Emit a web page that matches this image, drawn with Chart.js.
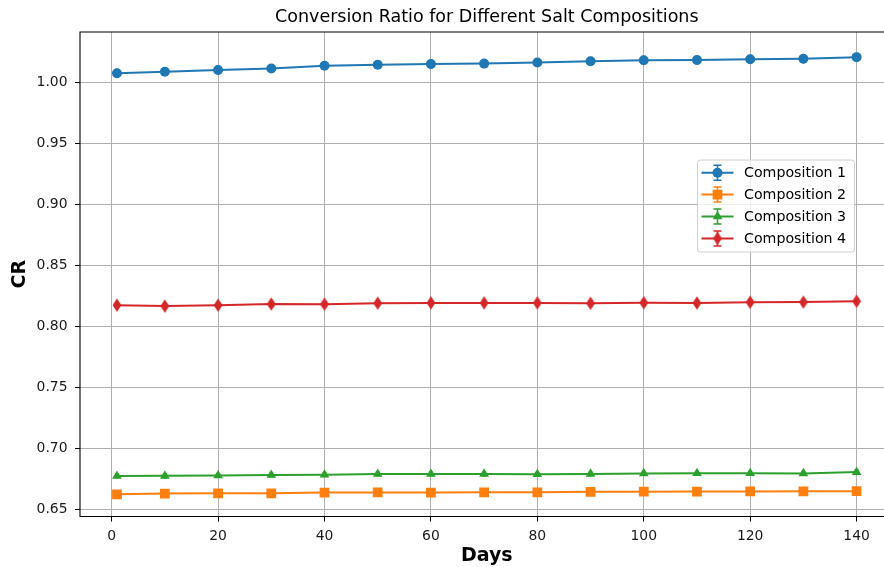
<!DOCTYPE html>
<html>
<head>
<meta charset="utf-8">
<script src="https://cdn.jsdelivr.net/npm/chart.js@4.4.1/dist/chart.umd.min.js"></script>
<style>
  html, body { margin: 0; padding: 0; background: #fff; }
  #wrap { width: 884px; height: 567px; }
</style>
</head>
<body>
<div id="wrap"><canvas id="c" width="884" height="567"></canvas></div>
<script>
// data
const days  = [1, 10, 20, 30, 40, 50, 60, 70, 80, 90, 100, 110, 120, 130, 140];
const comp1 = [1.0072, 1.0085, 1.0099, 1.0111, 1.0134, 1.0142, 1.0148, 1.0151, 1.0160, 1.0171, 1.0179, 1.0180, 1.0187, 1.0191, 1.0204];
const comp2 = [0.6622, 0.6628, 0.6630, 0.6630, 0.6636, 0.6637, 0.6636, 0.6638, 0.6638, 0.6642, 0.6643, 0.6644, 0.6645, 0.6646, 0.6647];
const comp3 = [0.6772, 0.6773, 0.6776, 0.6780, 0.6782, 0.6788, 0.6788, 0.6789, 0.6786, 0.6789, 0.6793, 0.6794, 0.6794, 0.6793, 0.6804];
const comp4 = [0.8172, 0.8164, 0.8172, 0.8181, 0.8180, 0.8188, 0.8190, 0.8190, 0.8190, 0.8187, 0.8191, 0.8189, 0.8196, 0.8197, 0.8204];
const err1  = [0.003, 0.003, 0.003, 0.003, 0.003, 0.003, 0.003, 0.003, 0.003, 0.003, 0.003, 0.003, 0.003, 0.003, 0.003];
const err2  = [0.002, 0.002, 0.002, 0.002, 0.002, 0.002, 0.002, 0.002, 0.002, 0.002, 0.002, 0.002, 0.002, 0.002, 0.002];
const err3  = [0.0015, 0.0015, 0.0015, 0.0015, 0.0015, 0.0015, 0.0015, 0.0015, 0.0015, 0.0015, 0.0015, 0.0015, 0.0015, 0.0015, 0.0015];
const err4  = [0.002, 0.002, 0.002, 0.002, 0.002, 0.002, 0.002, 0.002, 0.002, 0.002, 0.002, 0.002, 0.002, 0.002, 0.002];
const labels = ['Composition 1', 'Composition 2', 'Composition 3', 'Composition 4'];
const xTicks = [0, 20, 40, 60, 80, 100, 120, 140];
const yTicks = [0.65, 0.70, 0.75, 0.80, 0.85, 0.90, 0.95, 1.00];

const FONT = 'DejaVu Sans';
const colors = ['#1f77b4', '#ff7f0e', '#2ca02c', '#d62728'];

// matplotlib 'd' marker (thin diamond)
function thinDiamond(color) {
    const c = document.createElement('canvas');
    c.width = 10; c.height = 15;
    const g = c.getContext('2d');
    g.fillStyle = color;
    g.beginPath();
    g.moveTo(5, 0.8); g.lineTo(9.4, 7.5); g.lineTo(5, 14.2); g.lineTo(0.6, 7.5);
    g.closePath();
    g.fill();
    return c;
}

const series = [comp1, comp2, comp3, comp4];
const errs = [err1, err2, err3, err4];
const markers = [
    { style: 'circle', r: 5 },
    { style: 'rect', r: 6.9 },
    { style: 'triangle', r: 5.6 },
    { style: thinDiamond(colors[3]), r: 6 }
];

const datasets = series.map((s, k) => ({
    label: labels[k],
    data: days.map((d, i) => ({ x: d, y: s[i] })),
    borderColor: colors[k],
    backgroundColor: colors[k],
    borderWidth: 2,
    pointStyle: markers[k].style,
    pointRadius: markers[k].r,
    pointBorderWidth: 0,
    pointHoverRadius: markers[k].r,
    tension: 0
}));

// error bars with caps, under the markers
const errorBars = {
    id: 'errorBars',
    beforeDatasetsDraw(chart) {
        const ctx = chart.ctx, xs = chart.scales.x, ys = chart.scales.y;
        ctx.save();
        series.forEach((s, k) => {
            ctx.strokeStyle = colors[k];
            ctx.lineWidth = 1.5;
            days.forEach((d, i) => {
                const px = xs.getPixelForValue(d);
                const y1 = ys.getPixelForValue(s[i] + errs[k][i]);
                const y2 = ys.getPixelForValue(s[i] - errs[k][i]);
                ctx.beginPath();
                ctx.moveTo(px, y1); ctx.lineTo(px, y2);
                ctx.moveTo(px - 2, y1); ctx.lineTo(px + 2, y1);
                ctx.moveTo(px - 2, y2); ctx.lineTo(px + 2, y2);
                ctx.stroke();
            });
        });
        ctx.restore();
    }
};

// spines, title, x label, legend
const decor = {
    id: 'decor',
    afterDraw(chart) {
        const ctx = chart.ctx, a = chart.chartArea;
        // the full matplotlib axes runs past the right edge; its centre is x = 70.5
        const midX = chart.scales.x.getPixelForValue(70.5);
        ctx.save();
        ctx.strokeStyle = '#000';
        ctx.lineWidth = 1.1;
        ctx.beginPath();
        ctx.moveTo(a.right + 2, a.top); ctx.lineTo(a.left, a.top);
        ctx.lineTo(a.left, a.bottom); ctx.lineTo(a.right + 2, a.bottom);
        ctx.stroke();

        ctx.fillStyle = '#000';
        ctx.font = '17.5px "' + FONT + '"';
        ctx.textAlign = 'center';
        ctx.textBaseline = 'middle';
        ctx.fillText('Conversion Ratio for Different Salt Compositions', midX, 17);

        ctx.font = 'bold 19px "' + FONT + '"';
        ctx.fillText('Days', midX, 556);

        // legend
        const bx = 697.5, by = 160, bw = 157, bh = 92;
        ctx.beginPath();
        ctx.roundRect(bx, by, bw, bh, 3);
        ctx.fillStyle = 'rgba(255,255,255,0.8)';
        ctx.fill();
        ctx.strokeStyle = '#d0d0d0';
        ctx.lineWidth = 1;
        ctx.stroke();
        ctx.font = '14.2px "' + FONT + '"';
        ctx.textAlign = 'left';
        chart.data.datasets.forEach((ds, k) => {
            const y = 172.7 + k * 21.9;
            ctx.strokeStyle = colors[k];
            ctx.lineWidth = 2;
            ctx.beginPath();
            ctx.moveTo(701.5, y); ctx.lineTo(733.5, y);
            ctx.stroke();
            ctx.lineWidth = 1.5;
            ctx.beginPath();
            ctx.moveTo(717.5, y - 7.5); ctx.lineTo(717.5, y + 7.5);
            ctx.moveTo(713.5, y - 7.5); ctx.lineTo(721.5, y - 7.5);
            ctx.moveTo(713.5, y + 7.5); ctx.lineTo(721.5, y + 7.5);
            ctx.stroke();
            ctx.fillStyle = colors[k];
            Chart.helpers.drawPoint(ctx, { pointStyle: ds.pointStyle, radius: ds.pointRadius, rotation: 0, borderWidth: 0 }, 717.5, y);
            ctx.fillStyle = '#000';
            ctx.fillText(ds.label, 744, y + 0.5);
        });
        ctx.restore();
    }
};

new Chart(document.getElementById('c'), {
    type: 'line',
    data: { datasets },
    options: {
        responsive: false,
        animation: false,
        devicePixelRatio: 1,
        layout: { autoPadding: false, padding: { top: 32, right: 0, left: 0, bottom: 0 } },
        plugins: { legend: { display: false }, title: { display: false }, tooltip: { enabled: false } },
        scales: {
            x: {
                type: 'linear',
                min: -5.95,
                max: 145.15,
                afterBuildTicks: s => { s.ticks = xTicks.map(v => ({ value: v })); },
                afterFit: s => { s.height = 50.5; s.paddingLeft = 0; s.paddingRight = 0; },
                border: { display: false },
                grid: { color: '#b0b0b0', lineWidth: 1, tickLength: 5, tickColor: '#000', drawTicks: true },
                ticks: { color: '#1a1a1a', font: { family: FONT, size: 13.9 }, padding: 7, maxRotation: 0, callback: v => String(v) },
                title: { display: false }
            },
            y: {
                type: 'linear',
                min: 0.644,
                max: 1.041,
                afterBuildTicks: s => { s.ticks = yTicks.map(v => ({ value: v })); },
                afterFit: s => { s.width = 80; s.paddingTop = 0; s.paddingBottom = 0; },
                border: { display: false },
                grid: { color: '#b0b0b0', lineWidth: 1, tickLength: 5, tickColor: '#000', drawTicks: true },
                ticks: { color: '#1a1a1a', font: { family: FONT, size: 13.9 }, padding: 7.5, callback: v => v.toFixed(2) },
                title: { display: true, text: 'CR', color: '#000', font: { family: FONT, size: 19, weight: 'bold' }, padding: { top: 9, bottom: 0 } }
            }
        }
    },
    plugins: [errorBars, decor]
});
</script>
</body>
</html>
